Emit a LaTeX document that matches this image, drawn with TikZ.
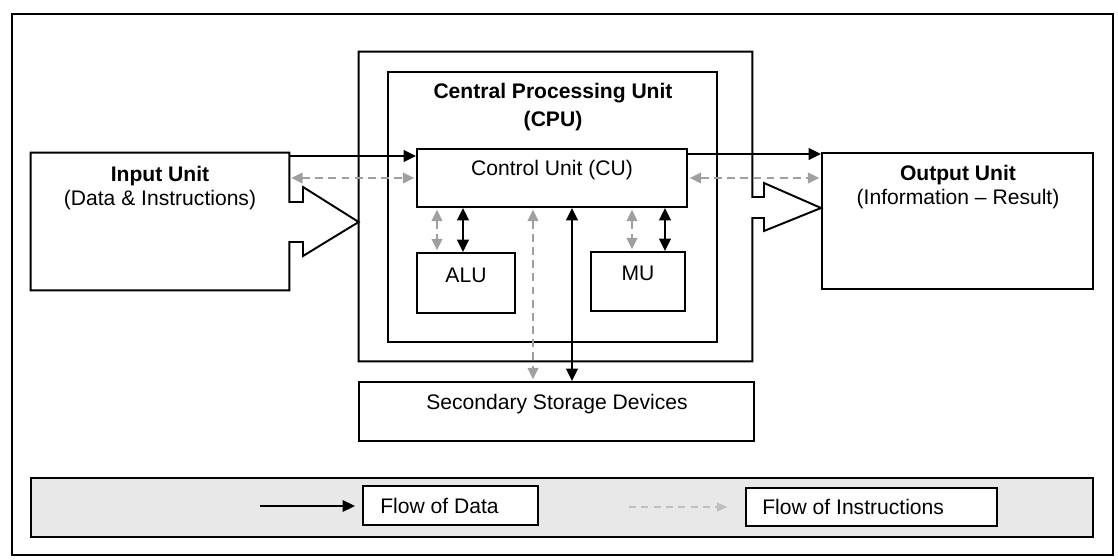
\documentclass[tikz,border=0pt]{standalone}
\usepackage{fontspec}
\setmainfont{Liberation Sans}
\usetikzlibrary{arrows.meta,fit}

\begin{document}
\begin{tikzpicture}[x=0.02cm, y=-0.02cm,
  font=\fontsize{12}{14}\selectfont,
  box/.style={draw, line width=1.1pt},
  unit/.style={box, inner sep=0pt},
  label/.style={inner sep=0pt, align=center},
  data/.style={line width=1.4pt, -{Triangle[length=7pt,width=6.5pt]}},
  datab/.style={line width=1.4pt, {Triangle[length=7pt,width=6.5pt]}-{Triangle[length=7pt,width=6.5pt]}},
  instr/.style={draw=gray!75, line width=1.2pt, dash pattern=on 4.5pt off 3pt,
    {Triangle[length=6.5pt,width=6pt]}-{Triangle[length=6.5pt,width=6pt]}, shorten <=1pt, shorten >=1pt}]
  \useasboundingbox (0,0) rectangle (1118,560);

  % Coordinates
  \coordinate (dL) at (0,156);
  \coordinate (dR) at (0,154);
  \coordinate (iH) at (0,178);
  \coordinate (aluI) at (437,0);
  \coordinate (aluD) at (463,0);
  \coordinate (ssI) at (533,0);
  \coordinate (ssD) at (572,0);
  \coordinate (muI) at (632,0);
  \coordinate (muD) at (665,0);
  \coordinate (kd0) at (260,506);
  \coordinate (ki0) at (629,507);

  % Frame and key band
  \draw[box] (12,14) rectangle (1113,555);
  \node[unit, fill=gray!18, fit={(31,478) (1093,537)}] (key) {};

  % Boxes
  \node[fit={(359,52) (752,361)}, inner sep=0pt] (cpuo) {};
  \node[unit, fit={(388,72) (717,342)}] (cpu) {};
  \node[unit, fit={(417,149) (687,207)}] (cu) {};
  \node[unit, fit={(417,253) (515,313)}] (alu) {};
  \node[unit, fit={(591,252) (685,311)}] (mu) {};
  \node[unit, fit={(359,382) (754,441)}] (ss) {};
  \node[fit={(31,153) (289,290)}, inner sep=0pt] (in) {};
  \node[unit, fit={(822,153) (1093,289)}] (out) {};
  \node[unit, fill=white, fit={(363,486) (538,525)}] (kd) {};
  \node[unit, fill=white, fit={(746,488) (997,526)}] (ki) {};

  % Outlines with the big arrows
  \draw[box] (in.east |- 0,202) -- (in.north east) -- (in.north west) -- (in.south west)
    -- (in.south east) -- (in.east |- 0,242) -- (303,242) -- (303,256)
    -- (cpuo.west |- 0,222) -- (303,187) -- (303,202) -- cycle;
  \draw[box] (cpuo.east |- 0,197) -- (cpuo.north east) -- (cpuo.north west) -- (cpuo.south west)
    -- (cpuo.south east) -- (cpuo.east |- 0,218) -- (764,218) -- (764,231)
    -- (out.west |- 0,208) -- (764,183) -- (764,197) -- cycle;

  % Texts
  \node[label] (inT) at (160,188) {{\bfseries Input Unit}\\(Data \& Instructions)};
  \node[label] (outT) at (958,187) {{\bfseries Output Unit}\\(Information -- Result)};
  \node[label] (cpuT) at (553,107) {\bfseries Central Processing Unit\\[1.5pt]\bfseries (CPU)};
  \node[label] (cuT) at (552,170) {Control Unit (CU)};
  \node[label] (aluT) at (466,275) {ALU};
  \node[label] (muT) at (638,273) {MU};
  \node[label] (ssT) at (557,404) {Secondary Storage Devices};
  \node[label, anchor=west] (kdT) at (380,506) {Flow of Data};
  \node[label, anchor=west] (kiT) at (762,507) {Flow of Instructions};

  % Connectors
  \draw[data] (in.east |- dL) -- (cu.west |- dL);
  \draw[instr] (in.east |- iH) -- (cu.west |- iH);
  \draw[data] (cu.east |- dR) -- (out.west |- dR);
  \draw[instr] (cu.east |- iH) -- (out.west |- iH);
  \draw[instr] (cu.south -| aluI) -- (alu.north -| aluI);
  \draw[datab] (cu.south -| aluD) -- (alu.north -| aluD);
  \draw[instr] (cu.south -| muI) -- (mu.north -| muI);
  \draw[datab] (cu.south -| muD) -- (mu.north -| muD);
  \draw[instr] (cu.south -| ssI) -- (ss.north -| ssI);
  \draw[datab] (cu.south -| ssD) -- (ss.north -| ssD);

  % Key arrows
  \draw[data, line width=1pt, shorten >=4pt] (kd0) -- (kd.west |- kd0);
  \draw[draw=gray!50, line width=1pt, dash pattern=on 4pt off 3pt, -{Triangle[length=6pt,width=5pt]},
    shorten >=10pt] (ki0) -- (ki.west |- ki0);
\end{tikzpicture}
\end{document}
